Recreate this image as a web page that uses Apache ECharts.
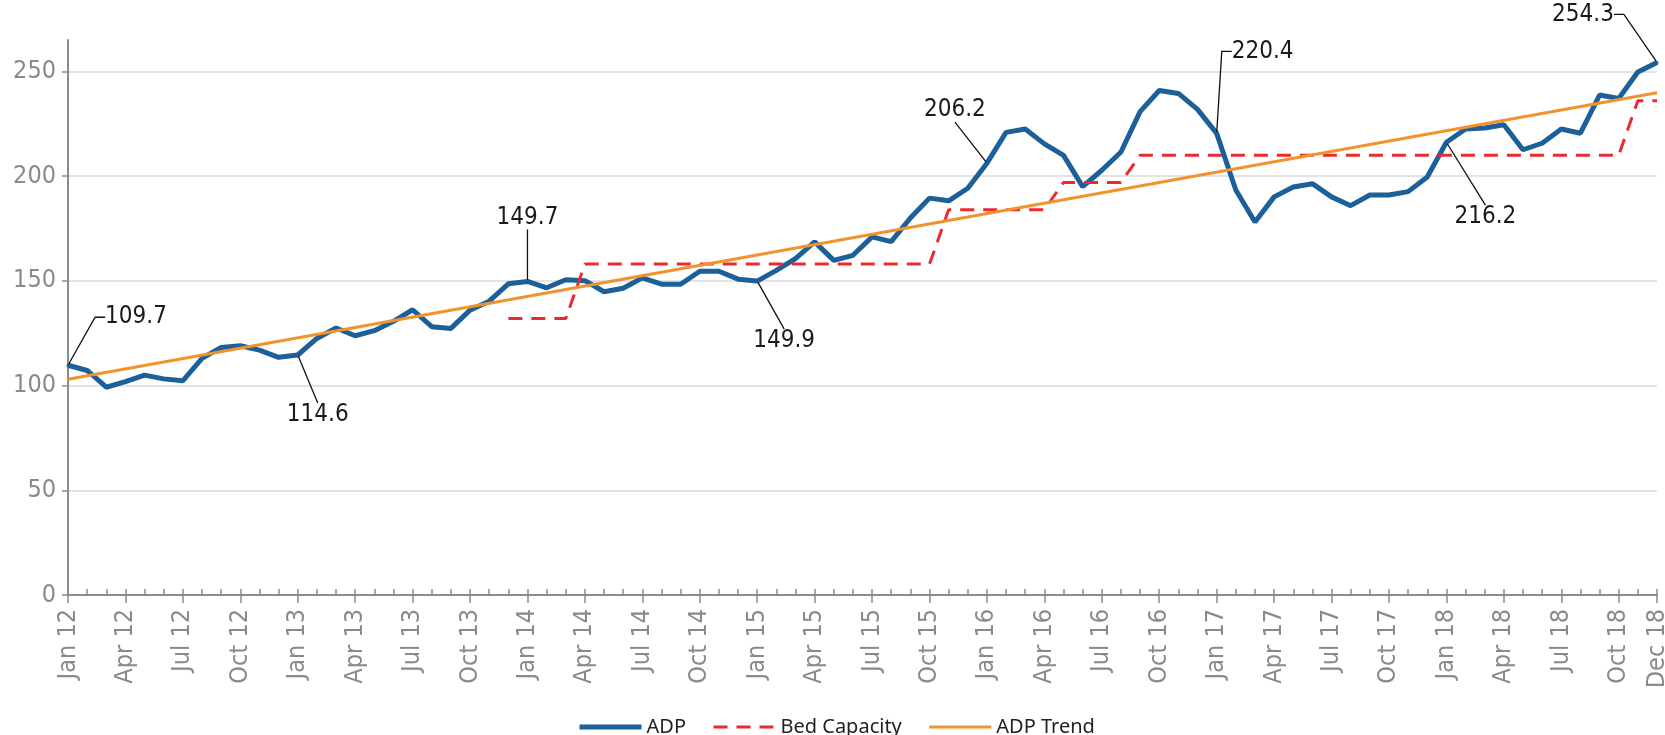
<!DOCTYPE html>
<html>
<head>
<meta charset="utf-8">
<script src="https://cdn.jsdelivr.net/npm/echarts@6.0.0/dist/echarts.min.js"></script>
<style>
  html, body { margin: 0; padding: 0; background: #fff; }
  #chart { width: 1665px; height: 735px; }
</style>
</head>
<body>
<div id="chart"></div>
<script>
// months and years for the category axis
const MONTHS = ['Jan', 'Feb', 'Mar', 'Apr', 'May', 'Jun', 'Jul', 'Aug', 'Sep', 'Oct', 'Nov', 'Dec'];
const YEARS = ['12', '13', '14', '15', '16', '17', '18'];

// average daily population, Jan 12 .. Dec 18
const ADP = [
  109.7, 107.2, 99.2, 101.9, 105.0, 103.2, 102.3, 113.0, 118.2, 119.0, 116.9, 113.5,
  114.6, 122.5, 127.5, 123.8, 126.2, 130.7, 136.2, 128.1, 127.3, 136.0, 140.3, 148.6,
  149.7, 146.7, 150.5, 150.1, 144.8, 146.5, 151.4, 148.4, 148.4, 154.6, 154.6, 150.8,
  149.9, 155.0, 160.6, 168.6, 159.8, 162.2, 171.0, 168.7, 180.0, 189.5, 188.2, 194.2,
  206.2, 220.9, 222.5, 215.4, 209.9, 195.0, 202.8, 211.5, 230.8, 240.9, 239.5, 231.9,
  220.4, 193.4, 178.1, 190.1, 194.8, 196.4, 190.1, 185.9, 191.0, 191.0, 192.6, 199.6,
  216.2, 222.5, 223.0, 224.5, 212.6, 215.7, 222.5, 220.5, 238.7, 237.1, 249.7, 254.3
];

// bed capacity, starts Dec 13
const BED = [
  '-', '-', '-', '-', '-', '-', '-', '-', '-', '-', '-', '-',
  '-', '-', '-', '-', '-', '-', '-', '-', '-', '-', '-', 132,
  132, 132, 132, 158, 158, 158, 158, 158, 158, 158, 158, 158,
  158, 158, 158, 158, 158, 158, 158, 158, 158, 158, 184, 184,
  184, 184, 184, 184, 197, 197, 197, 197, 210, 210, 210, 210,
  210, 210, 210, 210, 210, 210, 210, 210, 210, 210, 210, 210,
  210, 210, 210, 210, 210, 210, 210, 210, 210, 210, 236, 236
];

// trend line end points (first and last month)
const TREND = [[0, 103.0], [83, 239.8]];

// months that carry a callout value
const CALLOUTS = [0, 12, 24, 36, 48, 60, 72, 83];

const categories = [];
YEARS.forEach(y => MONTHS.forEach(m => categories.push(m + ' ' + y)));

// callout look: offset of the label from the point, elbow length, padding
const calloutStyle = {
  0: { off: [68, -48], elbow: 10 },
  12: { off: [20, 60], elbow: 0 },
  24: { off: [0, -64], elbow: 0 },
  36: { off: [27, 60], elbow: 0 },
  48: { off: [-32, -53], elbow: 0 },
  60: { off: [76, -82], elbow: 10, pad: [0, 60, 0, 0] },
  72: { off: [39, 75], elbow: 0 },
  83: { off: [-74, -48], elbow: 10 }
};

const isMajor = (i) => i % 3 === 0 || i === categories.length - 1;
const axisFont = 'Liberation Sans Narrow, DejaVu Sans Condensed, sans-serif';

const chart = echarts.init(document.getElementById('chart'));
chart.setOption({
  animation: false,
  grid: {
    left: 68,
    right: 8,
    top: 40,
    bottom: 140,
    containLabel: false,
    outerBoundsMode: 'none'
  },
  legend: {
    left: 572,
    top: 712,
    itemWidth: 62,
    itemHeight: 14,
    itemGap: 26,
    itemStyle: { opacity: 0 },
    lineStyle: { width: 'inherit' },
    textStyle: {
      fontFamily: 'Noto Sans',
      fontSize: 20,
      color: '#222'
    },
    data: ['ADP', 'Bed Capacity', 'ADP Trend']
  },
  xAxis: [{
    type: 'category',
    boundaryGap: false,
    data: categories,
    axisLine: {
      lineStyle: { color: '#8c8c8c', width: 2 }
    },
    axisTick: {
      interval: isMajor,
      length: 8,
      lineStyle: { color: '#8c8c8c', width: 1.5 }
    },
    axisLabel: {
      interval: isMajor,
      rotate: 90,
      margin: 14,
      fontFamily: axisFont,
      fontSize: 25,
      color: '#8a8a8a'
    }
  }, {
    type: 'category',
    position: 'bottom',
    boundaryGap: false,
    data: categories,
    axisLine: { show: false },
    axisTick: {
      interval: 0,
      inside: true,
      length: 6,
      lineStyle: { color: '#8c8c8c', width: 1.5 }
    },
    axisLabel: { show: false }
  }],
  yAxis: {
    type: 'value',
    min: 0,
    max: 265,
    interval: 50,
    axisLine: {
      show: true,
      lineStyle: { color: '#8c8c8c', width: 2 }
    },
    axisTick: {
      show: true,
      length: 6,
      lineStyle: { color: '#8c8c8c', width: 1.5 }
    },
    axisLabel: {
      showMaxLabel: false,
      margin: 12,
      fontFamily: axisFont,
      fontSize: 25,
      color: '#8a8a8a'
    },
    splitLine: {
      show: true,
      showMaxLine: false,
      lineStyle: { color: '#dadada', width: 1.5 }
    }
  },
  series: [{
    name: 'ADP',
    type: 'line',
    showSymbol: true,
    showAllSymbol: true,
    symbol: 'none',
    emphasis: { disabled: true },
    lineStyle: { color: '#1d5f98', width: 5 },
    itemStyle: { color: '#1d5f98' },
    data: ADP.map((v, i) => {
      if (!CALLOUTS.includes(i)) return v;
      const c = calloutStyle[i];
      const label = { show: true };
      if (c.pad) {
        label.padding = c.pad;
        label.backgroundColor = 'rgba(255,255,255,0)';
      }
      return {
        value: v,
        symbol: 'circle',
        symbolSize: 3,
        label: label,
        labelLine: { length2: c.elbow }
      };
    }),
    label: {
      show: false,
      position: 'inside',
      formatter: '{c}',
      fontFamily: axisFont,
      fontSize: 24,
      color: '#1a1a1a'
    },
    labelLine: {
      show: true,
      lineStyle: { color: '#111', width: 1.3 }
    },
    labelLayout(params) {
      const c = calloutStyle[params.dataIndex];
      return c ? { dx: c.off[0], dy: c.off[1] } : {};
    }
  }, {
    name: 'Bed Capacity',
    type: 'line',
    symbol: 'none',
    emphasis: { disabled: true },
    lineStyle: { color: '#ea2a2f', width: 3, type: [14, 9] },
    itemStyle: { color: '#ea2a2f' },
    data: BED
  }, {
    name: 'ADP Trend',
    type: 'line',
    symbol: 'none',
    emphasis: { disabled: true },
    lineStyle: { color: '#f0932d', width: 3 },
    itemStyle: { color: '#f0932d' },
    data: TREND
  }]
});
window.addEventListener('resize', function () {
  chart.resize();
});
</script>
</body>
</html>
